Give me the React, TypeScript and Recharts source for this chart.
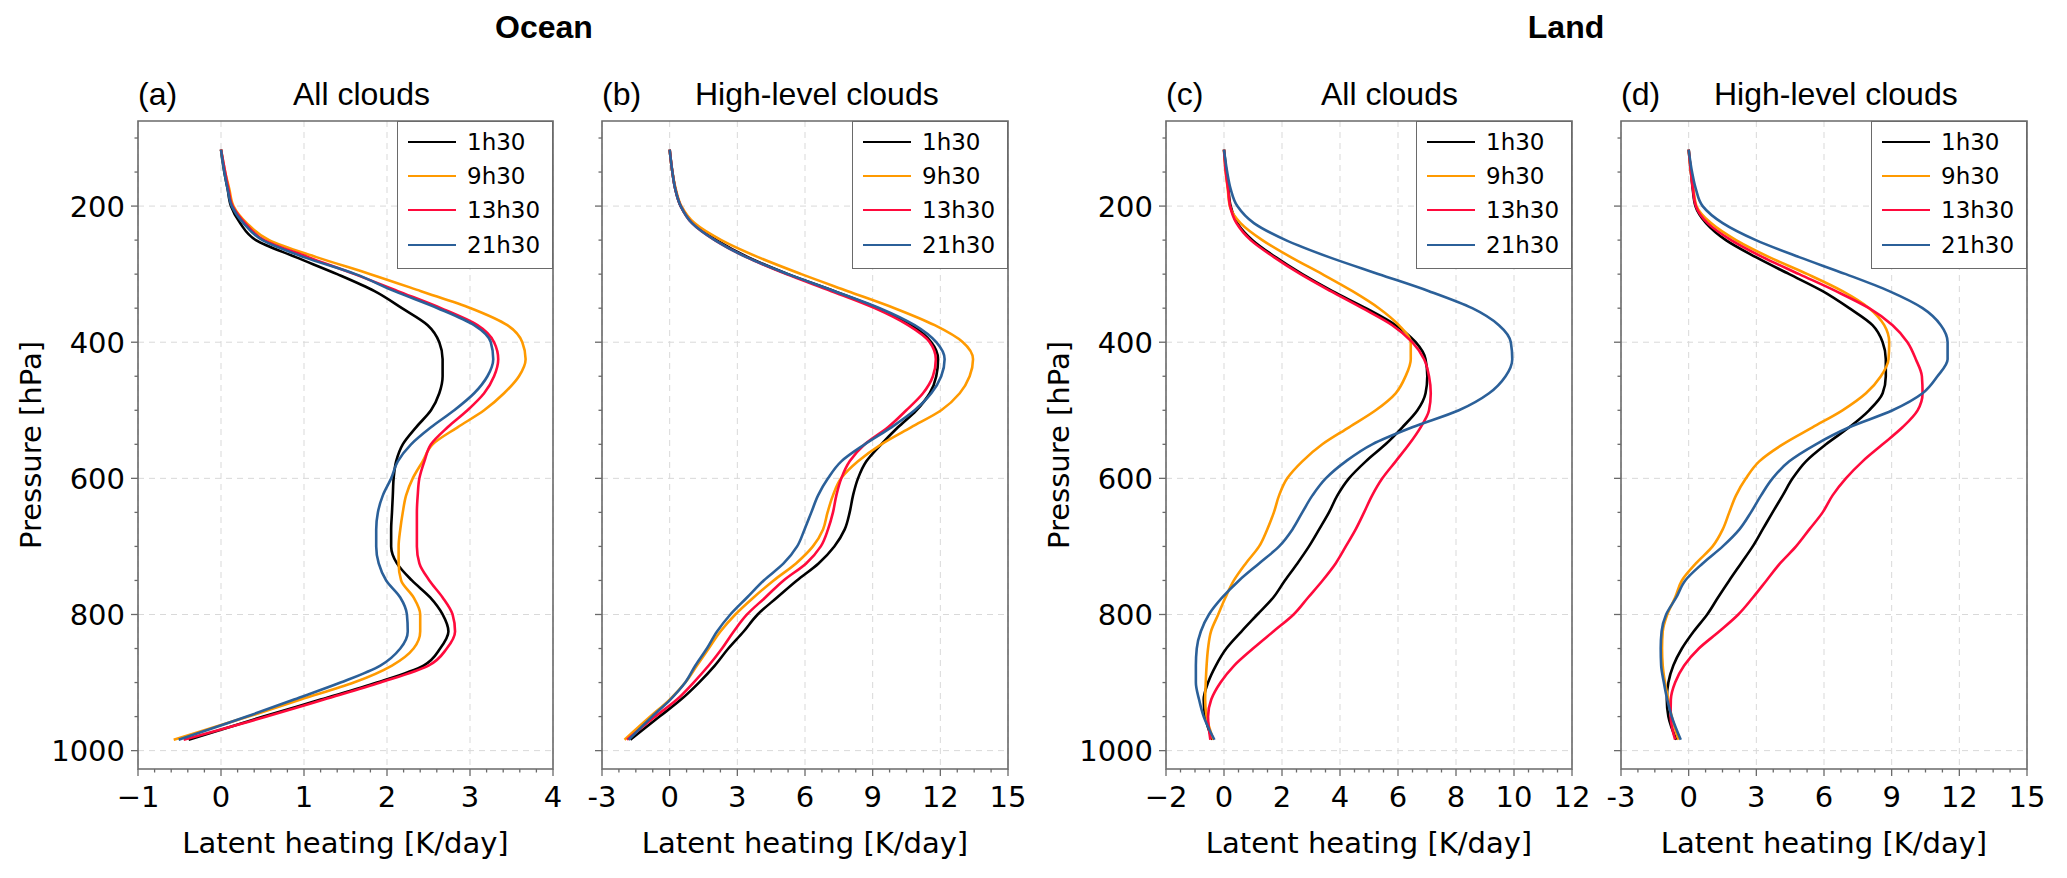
import React from 'react'
import {
  LineChart, Line, XAxis, YAxis, CartesianGrid,
  ReferenceArea, Legend,
} from 'recharts'

// ── Data ──────────────────────────────────────────────────────────────────────
// pressure levels (hPa) shared by every profile
const PRESSURE = [117, 150, 175, 200, 225, 250, 275, 300, 325, 350, 375, 400, 425, 450, 475, 500, 525, 550, 575, 600, 625, 650, 675, 700, 725, 750, 775, 800, 825, 850, 875, 900, 925, 950, 984]

// (a) Ocean, all clouds
const OCEAN_ALL_0130 = [0, 0.04, 0.08, 0.12, 0.23, 0.42, 0.9, 1.4, 1.85, 2.18, 2.49, 2.63, 2.67, 2.67, 2.63, 2.53, 2.35, 2.19, 2.11, 2.08, 2.07, 2.06, 2.05, 2.05, 2.12, 2.3, 2.52, 2.67, 2.74, 2.64, 2.44, 1.88, 1.2, 0.51, -0.39]
const OCEAN_ALL_0930 = [0, 0.05, 0.1, 0.15, 0.31, 0.58, 1.15, 1.8, 2.41, 3.01, 3.45, 3.63, 3.67, 3.59, 3.41, 3.17, 2.85, 2.55, 2.43, 2.31, 2.23, 2.19, 2.16, 2.14, 2.14, 2.17, 2.32, 2.4, 2.4, 2.32, 2.06, 1.6, 0.96, 0.33, -0.57]
const OCEAN_ALL_1330 = [0, 0.05, 0.09, 0.14, 0.29, 0.52, 1.05, 1.61, 2.13, 2.65, 3.09, 3.29, 3.34, 3.29, 3.17, 2.97, 2.73, 2.53, 2.45, 2.39, 2.37, 2.36, 2.36, 2.36, 2.39, 2.51, 2.67, 2.79, 2.82, 2.72, 2.5, 1.92, 1.24, 0.55, -0.45]
const OCEAN_ALL_2130 = [0, 0.04, 0.08, 0.13, 0.27, 0.5, 1.0, 1.62, 2.09, 2.61, 3.05, 3.25, 3.28, 3.21, 3.05, 2.81, 2.53, 2.29, 2.13, 2.05, 1.95, 1.89, 1.87, 1.87, 1.9, 1.99, 2.16, 2.24, 2.25, 2.16, 1.92, 1.44, 0.88, 0.31, -0.51]

// (b) Ocean, high-level clouds
const OCEAN_HIGH_0130 = [0, 0.12, 0.25, 0.49, 1.03, 2.07, 3.47, 5.25, 7.31, 9.24, 10.71, 11.6, 11.9, 11.82, 11.53, 10.94, 10.12, 9.38, 8.72, 8.35, 8.13, 7.98, 7.76, 7.3, 6.6, 5.64, 4.76, 3.9, 3.28, 2.6, 2.0, 1.3, 0.5, -0.45, -1.74]
const OCEAN_HIGH_0930 = [0, 0.12, 0.27, 0.52, 1.1, 2.29, 3.92, 5.84, 7.9, 9.97, 11.75, 13.0, 13.45, 13.3, 12.86, 12.04, 10.7, 9.38, 8.35, 7.6, 7.24, 7.0, 6.8, 6.35, 5.6, 4.61, 3.72, 2.91, 2.25, 1.73, 1.21, 0.69, 0.0, -0.86, -2.0]
const OCEAN_HIGH_1330 = [0, 0.12, 0.25, 0.49, 0.99, 2.0, 3.4, 5.17, 7.17, 9.09, 10.57, 11.53, 11.8, 11.67, 11.23, 10.49, 9.68, 8.65, 7.98, 7.61, 7.39, 7.24, 7.02, 6.7, 6.05, 5.05, 4.24, 3.43, 2.84, 2.32, 1.73, 1.06, 0.32, -0.64, -1.89]
const OCEAN_HIGH_2130 = [0, 0.12, 0.25, 0.49, 0.99, 2.0, 3.4, 5.25, 7.31, 9.31, 10.86, 11.82, 12.19, 12.04, 11.6, 10.86, 9.83, 8.65, 7.61, 7.02, 6.58, 6.28, 5.98, 5.65, 5.05, 4.17, 3.43, 2.69, 2.1, 1.65, 1.14, 0.69, 0.03, -0.78, -1.82]

// (c) Land, all clouds
const LAND_ALL_0130 = [0, 0.08, 0.15, 0.23, 0.46, 0.98, 1.78, 2.7, 3.74, 4.89, 5.92, 6.61, 6.95, 7.01, 6.95, 6.67, 6.15, 5.57, 4.89, 4.31, 3.91, 3.62, 3.28, 2.93, 2.53, 2.1, 1.7, 1.15, 0.6, 0.08, -0.28, -0.55, -0.7, -0.65, -0.4]
const LAND_ALL_0930 = [0, 0.06, 0.13, 0.2, 0.57, 1.32, 2.3, 3.39, 4.43, 5.34, 6.03, 6.44, 6.44, 6.26, 5.92, 5.23, 4.31, 3.39, 2.7, 2.18, 1.9, 1.72, 1.49, 1.21, 0.75, 0.34, 0.05, -0.2, -0.45, -0.55, -0.6, -0.63, -0.65, -0.6, -0.37]
const LAND_ALL_1330 = [0, 0.06, 0.14, 0.21, 0.43, 0.92, 1.72, 2.64, 3.68, 4.77, 5.8, 6.49, 6.9, 7.07, 7.13, 7.07, 6.78, 6.38, 5.92, 5.46, 5.11, 4.83, 4.54, 4.2, 3.85, 3.4, 2.9, 2.4, 1.7, 1.0, 0.35, -0.12, -0.44, -0.55, -0.47]
const LAND_ALL_2130 = [0, 0.11, 0.23, 0.46, 1.03, 2.13, 3.62, 5.34, 7.07, 8.56, 9.48, 9.89, 9.94, 9.71, 9.14, 8.1, 6.49, 5.11, 4.2, 3.51, 3.05, 2.7, 2.36, 1.9, 1.21, 0.52, -0.06, -0.52, -0.8, -0.94, -0.97, -0.97, -0.86, -0.7, -0.33]

// (d) Land, high-level clouds
const LAND_HIGH_0130 = [0, 0.1, 0.18, 0.3, 0.77, 1.65, 2.98, 4.46, 5.94, 7.12, 8.15, 8.6, 8.74, 8.74, 8.6, 8.0, 7.12, 6.09, 5.2, 4.61, 4.17, 3.72, 3.28, 2.84, 2.32, 1.8, 1.3, 0.82, 0.22, -0.3, -0.68, -0.9, -0.97, -0.9, -0.55]
const LAND_HIGH_0930 = [0, 0.1, 0.21, 0.35, 0.99, 2.1, 3.57, 5.27, 6.82, 8.0, 8.67, 8.89, 8.86, 8.52, 7.86, 6.82, 5.49, 4.17, 3.13, 2.54, 2.1, 1.8, 1.51, 1.06, 0.32, -0.3, -0.6, -0.95, -1.15, -1.18, -1.15, -1.05, -0.9, -0.75, -0.45]
const LAND_HIGH_1330 = [0, 0.1, 0.19, 0.32, 0.84, 1.88, 3.28, 4.9, 6.53, 8.0, 9.04, 9.7, 10.07, 10.34, 10.37, 10.15, 9.48, 8.6, 7.71, 6.97, 6.38, 5.94, 5.35, 4.76, 4.05, 3.45, 2.85, 2.2, 1.35, 0.45, -0.2, -0.6, -0.79, -0.8, -0.6]
const LAND_HIGH_2130 = [0, 0.15, 0.32, 0.62, 1.51, 2.98, 4.9, 6.97, 8.89, 10.37, 11.18, 11.48, 11.48, 11.03, 10.37, 9.04, 7.12, 5.64, 4.46, 3.72, 3.21, 2.76, 2.25, 1.51, 0.62, -0.15, -0.55, -1.0, -1.2, -1.24, -1.22, -1.1, -0.95, -0.75, -0.35]

// axis ticks
const Y_MAJOR = [200, 400, 600, 800, 1000]
const Y_TICKS = [100, 150, 200, 250, 300, 350, 400, 450, 500, 550, 600, 650, 700, 750, 800, 850, 900, 950, 1000]
const P_DOMAIN: [number, number] = [75, 1027]

const X_MAJOR_A = [-1, 0, 1, 2, 3, 4]
const X_MAJOR_B = [-3, 0, 3, 6, 9, 12, 15]
const X_MAJOR_C = [-2, 0, 2, 4, 6, 8, 10, 12]
const X_MAJOR_D = [-3, 0, 3, 6, 9, 12, 15]

const SERIES = [
  { key: 's0130', label: '1h30',  color: '#000000' },
  { key: 's0930', label: '9h30',  color: '#ff9a00' },
  { key: 's1330', label: '13h30', color: '#ff0a3c' },
  { key: 's2130', label: '21h30', color: '#2b6099' },
]

// ── Layout ────────────────────────────────────────────────────────────────────
const W = 2067
const H = 878
const PLOT_TOP = 121
const PLOT_BOTTOM = 769
const Y_AXIS_W = 100
const X_AXIS_H = 60
const RIGHT_PAD = 36
const AXIS_GRAY = '#6a6a6a'
const TICK_FONT = 29
const DEJAVU = '"DejaVu Sans", sans-serif'
const ARIAL = '"Liberation Sans", Arial, sans-serif'

const PANELS = [
  { tag: '(a)', title: 'All clouds',        left: 138,  width: 415, domain: [-1, 4] as [number, number],  majors: X_MAJOR_A, minor: 0.2,  minus: '\u2212', yLabels: true,  titleDx: 155, values: [OCEAN_ALL_0130, OCEAN_ALL_0930, OCEAN_ALL_1330, OCEAN_ALL_2130] },
  { tag: '(b)', title: 'High-level clouds', left: 602,  width: 406, domain: [-3, 15] as [number, number], majors: X_MAJOR_B, minor: 0.75, minus: '-',      yLabels: false, titleDx: 93,  values: [OCEAN_HIGH_0130, OCEAN_HIGH_0930, OCEAN_HIGH_1330, OCEAN_HIGH_2130] },
  { tag: '(c)', title: 'All clouds',        left: 1166, width: 406, domain: [-2, 12] as [number, number], majors: X_MAJOR_C, minor: 0.5,  minus: '\u2212', yLabels: true,  titleDx: 155, values: [LAND_ALL_0130, LAND_ALL_0930, LAND_ALL_1330, LAND_ALL_2130] },
  { tag: '(d)', title: 'High-level clouds', left: 1621, width: 406, domain: [-3, 15] as [number, number], majors: X_MAJOR_D, minor: 0.75, minus: '-',      yLabels: false, titleDx: 93,  values: [LAND_HIGH_0130, LAND_HIGH_0930, LAND_HIGH_1330, LAND_HIGH_2130] },
]

// ── Helpers ───────────────────────────────────────────────────────────────────
function stepTicks(lo: number, hi: number, step: number): number[] {
  const n = Math.round((hi - lo) / step)
  const out: number[] = []
  for (let i = 0; i <= n; i++) out.push(+(lo + i * step).toFixed(4))
  return out
}

const isMajor = (majors: number[], v: number) => majors.some(m => Math.abs(m - v) < 1e-6)

function XTick({ x, y, payload, majors, minus }: any) {
  const v = payload.value
  const major = isMajor(majors, v)
  const label = v < 0 ? minus + Math.abs(v) : String(v)
  return (
    <g>
      <line x1={x} y1={y} x2={x} y2={y + (major ? 7 : 3.5)} stroke={AXIS_GRAY} strokeWidth={1.3} />
      {major && (
        <text x={x} y={y + 38} textAnchor="middle" fontSize={TICK_FONT} fontFamily={DEJAVU} fill="#000">
          {label}
        </text>
      )}
    </g>
  )
}

function YTick({ x, y, payload, showLabels }: any) {
  const v = payload.value
  const major = isMajor(Y_MAJOR, v)
  return (
    <g>
      <line x1={x - (major ? 7 : 3.5)} y1={y} x2={x} y2={y} stroke={AXIS_GRAY} strokeWidth={1.3} />
      {major && showLabels && (
        <text x={x - 13} y={y} dy="0.36em" textAnchor="end" fontSize={TICK_FONT} fontFamily={DEJAVU} fill="#000">
          {v}
        </text>
      )}
    </g>
  )
}

// legend drawn in SERIES order (Recharts sorts the payload by name)
function LegendBox() {
  return (
    <div style={{
      width: 156, height: 148, boxSizing: 'border-box',
      border: `1.5px solid ${AXIS_GRAY}`, background: '#fff', position: 'relative',
    }}>
      {SERIES.map((s, i) => (
        <div key={s.key} style={{
          position: 'absolute', left: 10, top: 20 + i * 34.2 - 12, height: 24,
          display: 'flex', alignItems: 'center',
        }}>
          <span style={{ display: 'inline-block', width: 48, height: 0, borderTop: `2.6px solid ${s.color}` }} />
          <span style={{ marginLeft: 11, fontSize: 23, lineHeight: '24px', fontFamily: DEJAVU, color: '#000' }}>
            {s.label}
          </span>
        </div>
      ))}
    </div>
  )
}

// ── Panel ─────────────────────────────────────────────────────────────────────
function Panel({ panel }: { panel: typeof PANELS[number] }) {
  const rows = PRESSURE.map((p, i) => {
    const row: any = { p }
    SERIES.forEach((s, k) => { row[s.key] = panel.values[k][i] })
    return row
  })
  const xTicks = stepTicks(panel.domain[0], panel.domain[1], panel.minor)
  const chartW = panel.width + Y_AXIS_W + RIGHT_PAD

  return (
    <div style={{ position: 'absolute', left: panel.left - Y_AXIS_W, top: 0 }}>
      <LineChart
        width={chartW}
        height={H}
        layout="vertical"
        data={rows}
        margin={{ top: PLOT_TOP, right: RIGHT_PAD, bottom: H - PLOT_BOTTOM - X_AXIS_H, left: 0 }}
      >
        <CartesianGrid
          stroke="#d9d9d9"
          strokeDasharray="6 5"
          verticalValues={panel.majors}
          horizontalValues={Y_MAJOR}
        />
        <XAxis
          type="number"
          domain={panel.domain}
          ticks={xTicks}
          interval={0}
          height={X_AXIS_H}
          allowDataOverflow
          axisLine={false}
          tickLine={false}
          tickSize={0}
          tickMargin={0}
          tick={(props: any) => <XTick {...props} majors={panel.majors} minus={panel.minus} />}
        />
        <YAxis
          type="number"
          dataKey="p"
          domain={P_DOMAIN}
          ticks={Y_TICKS}
          interval={0}
          width={Y_AXIS_W}
          allowDataOverflow
          axisLine={false}
          tickLine={false}
          tickSize={0}
          tickMargin={0}
          tick={(props: any) => <YTick {...props} showLabels={panel.yLabels} />}
        />
        {SERIES.map(s => (
          <Line
            key={s.key}
            type="monotone"
            dataKey={s.key}
            name={s.label}
            stroke={s.color}
            strokeWidth={2.6}
            dot={false}
            activeDot={false}
            isAnimationActive={false}
          />
        ))}
        <ReferenceArea
          x1={panel.domain[0]} x2={panel.domain[1]}
          y1={P_DOMAIN[0]} y2={P_DOMAIN[1]}
          fill="none" fillOpacity={0}
          stroke={AXIS_GRAY} strokeWidth={1.6}
          ifOverflow="visible"
        />
        <Legend
          layout="horizontal"
          verticalAlign="middle"
          align="center"
          content={<LegendBox />}
          wrapperStyle={{ left: Y_AXIS_W + panel.width - 156, top: PLOT_TOP, width: 156, height: 148 }}
        />
      </LineChart>
    </div>
  )
}

// ── App ───────────────────────────────────────────────────────────────────────
export default function App() {
  const midY = (PLOT_TOP + PLOT_BOTTOM) / 2
  return (
    <div style={{ position: 'absolute', left: 0, top: 0, width: W, height: H, background: '#fff', overflow: 'hidden' }}>
      {PANELS.map(p => <Panel key={p.tag} panel={p} />)}

      <svg width={W} height={H} style={{ position: 'absolute', left: 0, top: 0, pointerEvents: 'none' }}>
        <text x={544} y={38} textAnchor="middle" fontSize={32} fontWeight="bold" fontFamily={ARIAL}>Ocean</text>
        <text x={1566} y={38} textAnchor="middle" fontSize={32} fontWeight="bold" fontFamily={ARIAL}>Land</text>

        {PANELS.map(p => (
          <g key={p.tag}>
            <text x={p.left} y={105} fontSize={32} fontFamily={ARIAL}>{p.tag}</text>
            <text x={p.left + p.titleDx} y={105} fontSize={32} fontFamily={ARIAL}>{p.title}</text>
            <text x={p.left + p.width / 2} y={853} textAnchor="middle" fontSize={TICK_FONT} fontFamily={DEJAVU}>
              Latent heating [K/day]
            </text>
            {p.yLabels && (
              <text
                x={p.left - 107} y={midY}
                textAnchor="middle" dominantBaseline="central"
                fontSize={TICK_FONT} fontFamily={DEJAVU}
                transform={`rotate(-90 ${p.left - 107} ${midY})`}
              >
                Pressure [hPa]
              </text>
            )}
          </g>
        ))}
      </svg>
    </div>
  )
}
